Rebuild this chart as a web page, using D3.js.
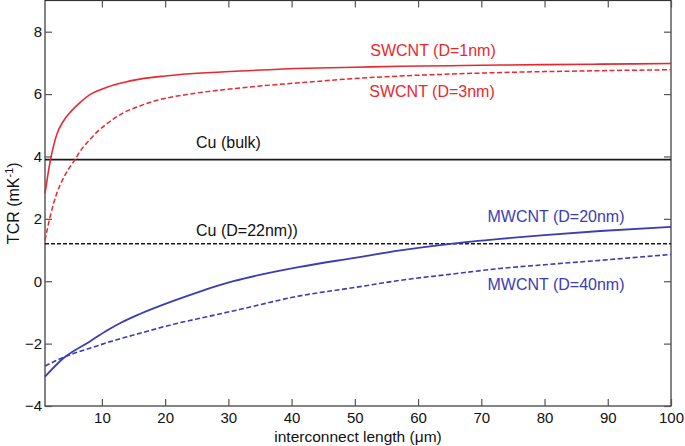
<!DOCTYPE html>
<html><head><meta charset="utf-8">
<script src="https://cdn.jsdelivr.net/npm/d3@7"></script>
<style>
html,body{margin:0;padding:0;background:#fff;}
svg{display:block;font-family:"Liberation Sans",Arial,sans-serif;}
</style></head>
<body><svg id="c" width="685" height="446"></svg>
<script>
const xTicks = [10,20,30,40,50,60,70,80,90,100];
const yTicks = [-4,-2,0,2,4,6,8];

const sw1X = [1,1.8,2.85,3.9,5,6.5,8.1,10.8,13.4,16,20,23.9,31.8,42.4,50,57.2,65,73,80,88.8,100];
const sw1Y = [2.82,3.82,4.7,5.13,5.42,5.72,5.98,6.22,6.37,6.48,6.58,6.65,6.74,6.83,6.86,6.89,6.91,6.93,6.945,6.96,6.98];

const sw3X = [1,1.8,2.85,3.9,5,5.75,6.5,8,9.2,10.8,13.4,16,18.7,23.9,29.2,34.5,42.4,50,57.2,65,73,80,88.8,100];
const sw3Y = [1.31,2.06,2.81,3.3,3.68,3.9,4.15,4.52,4.78,5.05,5.4,5.62,5.8,6.0,6.14,6.25,6.38,6.5,6.58,6.64,6.69,6.72,6.75,6.78];

const mw20X = [1,3.9,8.1,10.8,13,16,21.3,25.5,30.8,41.3,50,57.2,65.1,73,80,88.8,100];
const mw20Y = [-3.06,-2.47,-1.93,-1.58,-1.33,-1.05,-0.63,-0.33,0.0,0.46,0.75,0.99,1.2,1.36,1.48,1.61,1.74];

const mw40X = [1,3.9,8.1,10.8,16,21.3,26.6,31.9,41.3,50,57.2,65,73,80,88.8,100];
const mw40Y = [-2.72,-2.44,-2.15,-1.97,-1.67,-1.38,-1.14,-0.9,-0.47,-0.2,0.03,0.22,0.41,0.53,0.67,0.86];

const cuBulk = 3.9;
const cu22 = 1.2;

const RED = "#e8282c", BLUE = "#3c3cb4", BLACK = "#1a1a1a";

const svg = d3.select("#c");
const L = 45, R = 671, T = 0.5, B = 406;
const x = d3.scaleLinear().domain([1,100]).range([L,R]);
const y = d3.scaleLinear().domain([-4,9]).range([B,T]);

const g = svg.append("g");

// frame
g.append("rect").attr("x",L).attr("y",T).attr("width",R-L).attr("height",B-T)
  .attr("fill","none").attr("stroke","#333").attr("stroke-width",1.2);

// axes
const ax = g.append("g").attr("transform",`translate(0,${B})`)
  .call(d3.axisBottom(x).tickValues(xTicks).tickSize(-7).tickPadding(6).tickFormat(d3.format("d")));
const axT = g.append("g").attr("transform",`translate(0,${T})`)
  .call(d3.axisTop(x).tickValues(xTicks).tickSize(-7).tickFormat(""));
const ay = g.append("g").attr("transform",`translate(${L},0)`)
  .call(d3.axisLeft(y).tickValues(yTicks).tickSize(-7).tickPadding(3).tickFormat(d3.format("d")));
const ayR = g.append("g").attr("transform",`translate(${R},0)`)
  .call(d3.axisRight(y).tickValues(yTicks).tickSize(-7).tickFormat(""));
[ax,axT,ay,ayR].forEach(a=>{
  a.select(".domain").remove();
  a.selectAll(".tick line").attr("stroke","#555").attr("stroke-width",1.2);
  a.selectAll("text").attr("fill","#111").style("font-size","15px").style("font-family","Liberation Sans, Arial, sans-serif");
});

// reference lines
g.append("line").attr("x1",L).attr("x2",R).attr("y1",y(cuBulk)).attr("y2",y(cuBulk))
  .attr("stroke",BLACK).attr("stroke-width",1.8);
g.append("line").attr("x1",L).attr("x2",R).attr("y1",y(cu22)).attr("y2",y(cu22))
  .attr("stroke",BLACK).attr("stroke-width",1.5).attr("stroke-dasharray","4,2");

const line = d3.line().x(d=>x(d[0])).y(d=>y(d[1])).curve(d3.curveMonotoneX);
function series(xs, ys, color, dashed, w){
  g.append("path").datum(xs.map((v,i)=>[v,ys[i]]))
    .attr("d",line).attr("fill","none").attr("stroke",color)
    .attr("stroke-width",w).attr("stroke-dasharray",dashed?"5,2.5":null);
}
series(sw1X, sw1Y, RED, false, 1.6);
series(sw3X, sw3Y, RED, true, 1.5);
series(mw20X, mw20Y, BLUE, false, 1.8);
series(mw40X, mw40Y, BLUE, true, 1.6);

// labels
function label(txt, cx, by, color, anchor){
  g.append("text").attr("x",cx).attr("y",by).attr("fill",color)
   .attr("text-anchor",anchor||"middle").style("font-size","16px").text(txt);
}
label("SWCNT (D=1nm)", 433, 56, RED);
label("SWCNT (D=3nm)", 432, 97, RED);
label("Cu (bulk)", 196, 148, "#111", "start");
label("Cu (D=22nm))", 196, 236, "#111", "start");
label("MWCNT (D=20nm)", 556, 222, BLUE);
label("MWCNT (D=40nm)", 556, 290, BLUE);

// axis titles
svg.append("text").attr("x",(L+R)/2).attr("y",442).attr("text-anchor","middle")
  .attr("fill","#111").style("font-size","15.5px").text("interconnect length (μm)");
const yt = svg.append("text").attr("transform",`translate(19,${(T+B)/2}) rotate(-90)`)
  .attr("text-anchor","middle").attr("fill","#111").style("font-size","16px");
yt.append("tspan").text("TCR (mK");
yt.append("tspan").attr("dy",-6).style("font-size","11px").text("-1");
yt.append("tspan").attr("dy",6).text(")");
</script></body></html>
